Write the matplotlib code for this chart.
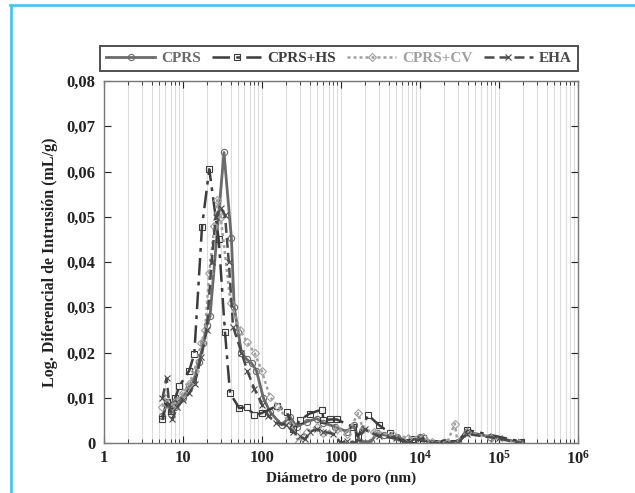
import matplotlib
matplotlib.use("Agg")
from matplotlib import pyplot as plt
from matplotlib.lines import Line2D
from matplotlib.ticker import FixedLocator, LogLocator, NullFormatter, FuncFormatter

# Datos (diámetro en nm, intrusión en mL/g)
cprs_x = [5.5, 6.3, 7.0, 8.0, 9.0, 10, 12, 13.5, 16, 18, 20, 22, 33, 41, 44.5, 50,
          55, 64, 74, 85, 104, 126, 177, 226, 275, 367, 494, 590, 840, 1190, 1440,
          1740, 2400, 2830, 3500, 5100, 7000, 10000, 12300, 20000, 30000, 39000,
          76000, 192000]
cprs_y = [0.0060, 0.0090, 0.0065, 0.0080, 0.0095, 0.0100, 0.0125, 0.0135, 0.0180,
          0.0220, 0.0260, 0.0280, 0.0642, 0.0452, 0.0300, 0.0246, 0.0200, 0.0185,
          0.0176, 0.0160, 0.0100, 0.0069, 0.0040, 0.0058, 0.0036, 0.0047, 0.0054,
          0.0045, 0.0036, 0.0025, 0.0040, 0.0003, 0.0003, 0.0021, 0.0018, 0.0014,
          0.0003, 0.0014, 0.0003, 0.0003, 0.0003, 0.0025, 0.0014, 0.0001]

hs_x = [5.5, 6.2, 7.0, 8.0, 9.0, 12.0, 13.9, 17.4, 21.5, 28.3, 34, 39.4, 51.5, 64,
        80, 99, 154, 205, 250, 300, 400, 577, 600, 730, 885, 1400, 1640, 2200,
        3000, 4200, 6100, 8000, 11000, 15000, 20000, 27000, 30000, 39000, 192000]
hs_y = [0.0052, 0.0090, 0.0070, 0.0100, 0.0126, 0.0160, 0.0197, 0.0478, 0.0605,
        0.0450, 0.0245, 0.0110, 0.0077, 0.0079, 0.0062, 0.0066, 0.0082, 0.0069,
        0.0030, 0.0050, 0.0065, 0.0074, 0.0050, 0.0052, 0.0052, 0.0036, 0.0014,
        0.0062, 0.0040, 0.0022, 0.0003, 0.0008, 0.0010, 0.0000, 0.0000, 0.0000,
        0.0000, 0.0029, 0.0003]

cv_x = [5.5, 6.0, 7.0, 8.0, 10, 12, 14, 17, 19, 21.5, 25, 27.2, 30, 40, 52.5, 64,
        81, 99, 126, 161, 226, 290, 367, 494, 600, 885, 1200, 1650, 1900, 2600,
        4500, 7000, 11000, 14000, 22000, 27600, 30000, 39000, 80000, 180000]
cv_y = [0.0080, 0.0100, 0.0080, 0.0090, 0.0110, 0.0130, 0.0160, 0.0220, 0.0250,
        0.0375, 0.0480, 0.0537, 0.0500, 0.0310, 0.0250, 0.0224, 0.0198, 0.0160,
        0.0102, 0.0080, 0.0043, 0.0003, 0.0025, 0.0036, 0.0022, 0.0032, 0.0020,
        0.0066, 0.0030, 0.0025, 0.0018, 0.0012, 0.0014, 0.0003, 0.0000, 0.0043,
        0.0000, 0.0025, 0.0012, 0.0000]

eha_x = [5.5, 6.2, 6.7, 7.3, 8.5, 10, 12, 14, 17, 20, 23, 26, 30, 34, 38, 43, 55,
         65, 80, 100, 120, 150, 200, 250, 300, 350, 400, 500, 600, 800, 1000, 1200,
         1500, 2000, 3000, 5000, 7000, 10000, 14000, 30000, 39000, 100000, 180000]
eha_y = [0.0099, 0.0143, 0.0086, 0.0052, 0.0080, 0.0095, 0.0110, 0.0130, 0.0190,
         0.0250, 0.0400, 0.0500, 0.0520, 0.0504, 0.0400, 0.0257, 0.0200, 0.0160,
         0.0120, 0.0085, 0.0060, 0.0045, 0.0040, 0.0025, 0.0015, 0.0008, 0.0025,
         0.0030, 0.0025, 0.0020, 0.0000, 0.0005, 0.0000, 0.0030, 0.0015, 0.0010,
         0.0000, 0.0008, 0.0000, 0.0000, 0.0020, 0.0010, 0.0000]

labels = ["CPRS", "CPRS+HS", "CPRS+CV", "EHA"]
y_ticks = [0, 0.01, 0.02, 0.03, 0.04, 0.05, 0.06, 0.07, 0.08]
x_ticks = [1, 10, 100, 1000, 1e4, 1e5, 1e6]
x_tick_labels = ["1", "10", "100", "1000", r"$\mathbf{10^4}$", r"$\mathbf{10^5}$",
                 r"$\mathbf{10^6}$"]

plt.rcParams["font.family"] = ["Liberation Serif", "DejaVu Serif"]
plt.rcParams["font.weight"] = "bold"
plt.rcParams["mathtext.fontset"] = "custom"
plt.rcParams["mathtext.bf"] = "Liberation Serif:bold"
plt.rcParams["mathtext.rm"] = "Liberation Serif:bold"

fig = plt.figure(figsize=(6.35, 4.93), dpi=100)
ax = fig.add_axes([104 / 635, 1 - 443 / 493, 474 / 635, 362 / 493])

styles = [
    dict(color="#6a6a6a", ls="-", lw=2.0, marker="o", ms=4.5),
    dict(color="#3c3c3c", ls=(0, (7, 2.5, 1.5, 2.5)), lw=1.8, marker="s", ms=5),
    dict(color="#a0a0a0", ls=(0, (1.2, 1.2)), lw=1.8, marker="D", ms=4),
    dict(color="#4a4a4a", ls=(0, (4, 2)), lw=1.8, marker="x", ms=5),
]
series = [(cprs_x, cprs_y), (hs_x, hs_y), (cv_x, cv_y), (eha_x, eha_y)]
for (xs, ys), lab, st in zip(series, labels, styles):
    ax.plot(xs, ys, label=lab, color=st["color"], linestyle=st["ls"], linewidth=st["lw"],
            marker=st["marker"], markersize=st["ms"], markerfacecolor="none",
            markeredgecolor=st["color"], markeredgewidth=0.8)

ax.set_xscale("log")
ax.set_xlim(1, 1e6)
ax.set_ylim(0, 0.08)
ax.xaxis.set_major_locator(FixedLocator(x_ticks))
ax.set_xticklabels(x_tick_labels)
ax.xaxis.set_minor_locator(LogLocator(base=10, subs=range(2, 10), numticks=20))
ax.xaxis.set_minor_formatter(NullFormatter())
ax.set_yticks(y_ticks)
ax.yaxis.set_major_formatter(FuncFormatter(
    lambda v, p: "0" if v == 0 else f"{v:.2f}".replace(".", ",")))
ax.grid(True, axis="x", which="both", color="#dcdcdc", linewidth=0.8)
ax.set_axisbelow(True)
ax.tick_params(axis="both", which="both", direction="in", top=True, right=True,
               labelsize=12, colors="#222222")
ax.tick_params(axis="x", which="major", length=5, pad=5)
ax.tick_params(axis="x", which="minor", length=3)
ax.tick_params(axis="y", length=5, pad=6)
for sp in ax.spines.values():
    sp.set_color("#777777")
    sp.set_linewidth(1.0)

ax.set_xlabel("Diámetro de poro (nm)", fontsize=11, fontweight="bold", color="#222222",
              labelpad=3)
ax.set_ylabel("Log. Diferencial de Intrusión (mL/g)", fontsize=11.5, fontweight="bold",
              color="#222222", labelpad=6)

leg = fig.legend(loc="center", ncol=4, mode="expand",
                 bbox_to_anchor=(100 / 635, 1 - 72 / 493, 478 / 635, 27 / 493),
                 fancybox=False, frameon=True, fontsize=11, handlelength=3.2,
                 borderaxespad=0, handletextpad=0.4)
leg.get_frame().set_edgecolor("#222222")
leg.get_frame().set_linewidth(1.4)
for txt, st in zip(leg.get_texts(), styles):
    txt.set_color(st["color"])

# marco azul de la figura
blue = "#4fc3f0"
fig.add_artist(Line2D([10 / 635, 1], [1 - 5 / 493, 1 - 5 / 493], color=blue, lw=2,
                      transform=fig.transFigure))
fig.add_artist(Line2D([11 / 635, 11 / 635], [0, 1 - 5 / 493], color=blue, lw=2,
                      transform=fig.transFigure))

fig.savefig("out.png", dpi=100)
